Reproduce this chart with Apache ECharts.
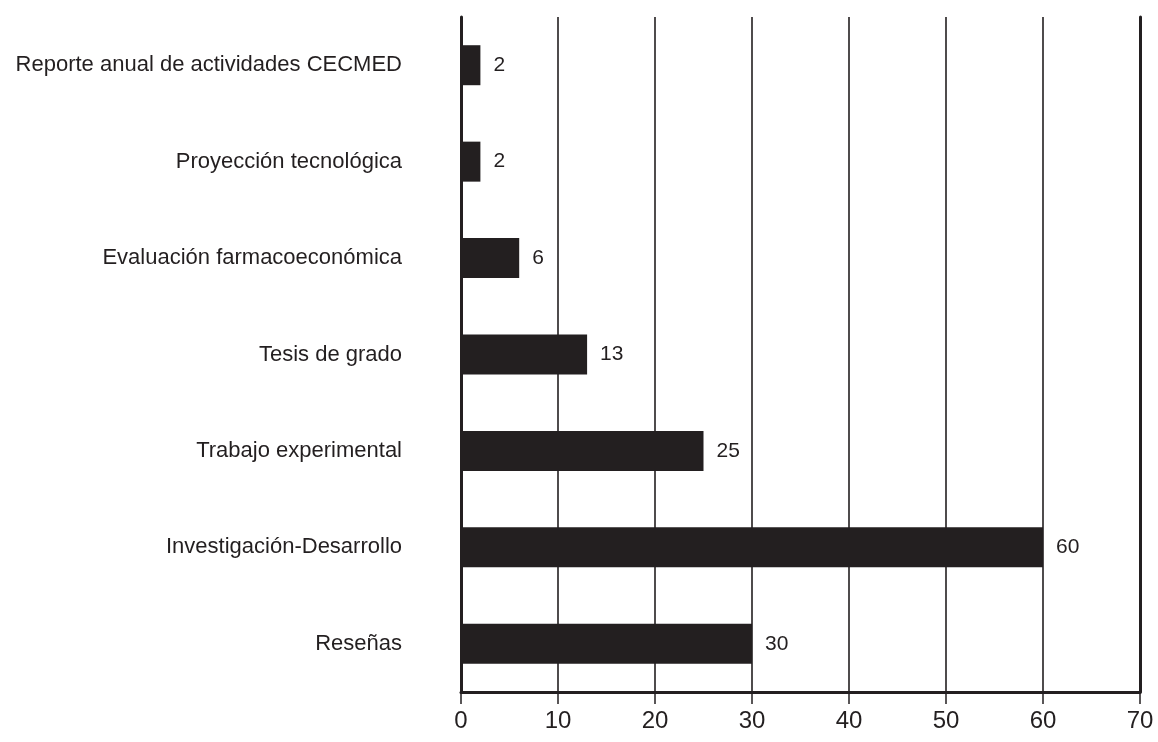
<!DOCTYPE html>
<html><head><meta charset="utf-8">
<script src="https://cdn.jsdelivr.net/npm/echarts@6/dist/echarts.min.js"></script>
<style>html,body{margin:0;padding:0;background:#fff}#c{width:1158px;height:742px}</style>
</head><body><div id="c"></div>
<script>
const categories = ["Reporte anual de actividades CECMED","Proyección tecnológica","Evaluación farmacoeconómica","Tesis de grado","Trabajo experimental","Investigación-Desarrollo","Reseñas"];
const values = [2,2,6,13,25,60,30];
const xTicks = [0,10,20,30,40,50,60,70];
const ink = '#231f20';
const chart = echarts.init(document.getElementById('c'));
chart.setOption({
  animation:false,
  grid:{left:461,right:18,top:17,bottom:50},
  xAxis:{type:'value',min:xTicks[0],max:xTicks[xTicks.length-1],interval:10,
    axisLine:{show:true,lineStyle:{color:ink,width:3}},
    axisTick:{show:true,length:12,lineStyle:{color:ink,width:1.5}},
    axisLabel:{fontFamily:'Liberation Sans, Arial, sans-serif',fontSize:24,color:ink,margin:17},
    splitLine:{show:true,lineStyle:{color:ink,width:1.6}}},
  yAxis:[{type:'category',data:categories,inverse:true,
    axisLine:{show:true,lineStyle:{color:ink,width:3}},
    axisTick:{show:false},
    axisLabel:{fontFamily:'Liberation Sans, Arial, sans-serif',fontSize:22,color:ink,margin:59}},
    {type:'category',data:categories,inverse:true,position:'right',
    axisLine:{show:true,lineStyle:{color:ink,width:3}},axisTick:{show:false},axisLabel:{show:false}}],
  series:[{type:'bar',data:values,barWidth:40,itemStyle:{color:ink},
    label:{show:true,position:'right',distance:13,fontFamily:'Liberation Sans, Arial, sans-serif',fontSize:21,color:ink}}]
});
</script></body></html>
